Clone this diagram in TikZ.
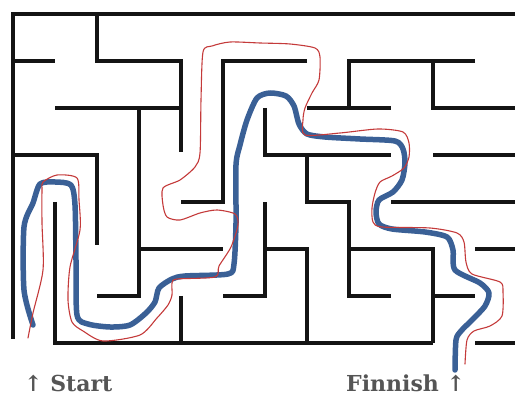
\documentclass[tikz,border=0pt]{standalone}
\usepackage{fontspec}
\setmainfont{DejaVu Serif}
\definecolor{pathblue}{RGB}{58,96,150}
\definecolor{pathred}{RGB}{196,58,58}
\definecolor{labelgray}{RGB}{85,85,85}
\begin{document}
\begin{tikzpicture}[x=1pt,y=-1pt,
  wall/.style={line width=3.8pt,black!92,line join=miter},
  bluepath/.style={line width=5.5pt,pathblue,line cap=round,line join=round},
  redpath/.style={line width=1.1pt,pathred,line cap=round,line join=round},
  label/.style={font=\bfseries\fontsize{22}{22}\selectfont,text=labelgray,inner sep=0pt,anchor=base west}]
\useasboundingbox (0,0) rectangle (515,398);
% outer walls
\draw[wall] (515,14) -- (13,14) -- (13,339);
\draw[wall] (55,202) -- (55,343) -- (433,343);
\draw[wall] (475,343) -- (515,343);
% inner walls
\draw[wall] (97,14) -- (97,61) -- (181,61) -- (181,152);
\draw[wall] (13,61) -- (55,61);
\draw[wall] (55,108) -- (181,108);
\draw[wall] (139,108) -- (139,296) -- (97,296);
\draw[wall] (13,155) -- (97,155) -- (97,245);
\draw[wall] (307,61) -- (223,61) -- (223,202) -- (181,202);
\draw[wall] (139,249) -- (223,249);
\draw[wall] (181,296) -- (181,343);
\draw[wall] (223,296) -- (265,296) -- (265,202);
\draw[wall] (265,249) -- (307,249) -- (307,343);
\draw[wall] (475,61) -- (349,61) -- (349,108);
\draw[wall] (307,108) -- (391,108);
\draw[wall] (433,61) -- (433,108) -- (515,108);
\draw[wall] (265,108) -- (265,155) -- (391,155);
\draw[wall] (307,155) -- (307,202) -- (349,202) -- (349,296) -- (391,296);
\draw[wall] (433,155) -- (515,155);
\draw[wall] (391,202) -- (515,202);
\draw[wall] (349,249) -- (433,249) -- (433,343);
\draw[wall] (433,296) -- (475,296);
\draw[wall] (475,249) -- (515,249);
% solution path (blue)
\draw[bluepath] plot[smooth,tension=0.45] coordinates {
 (33,325) (24,290) (24,227) (33,203) (40,184) (55,182) (71,185) (75,205)
 (76,260) (77,315) (88,324) (110,327) (130,325) (146,313) (155,302)
 (159,288) (172,279) (185,276) (228,274) (234,264) (236,223) (236,165)
 (240,145) (247,120) (257,98) (270,93) (286,96) (294,106) (299,124)
 (307,134) (325,137) (360,139) (395,141) (403,149) (405,163) (402,180)
 (393,192) (379,200) (376,212) (379,224) (392,229) (425,232) (447,237)
 (453,250) (455,270) (480,283) (489,293) (485,306) (472,320) (461,331)
 (456,340) (455,370)};
% drawn outline (red)
\draw[redpath] plot[smooth,tension=0.45] coordinates {
 (28,338) (33,313) (43,270) (42,223) (42,190) (43,182) (57,175) (77,178)
 (79,200) (80,230) (70,267) (68,300) (72,322) (83,331) (103,341) (140,335)
 (157,318) (168,305) (172,295) (172,283) (177,279) (215,277) (219,266)
 (231,247) (238,225) (235,214) (217,210) (200,213) (180,220) (167,217)
 (163,205) (163,188) (180,180) (195,167) (200,153) (201,100) (203,52)
 (212,46) (230,42) (260,43) (290,44) (315,48) (320,57) (319,80) (312,93)
 (305,108) (303,120) (305,135) (340,133) (378,129) (403,132) (409,143)
 (409,157) (404,168) (392,176) (380,182) (375,193) (372,208) (373,222)
 (382,227) (430,228) (457,233) (464,242) (466,262) (472,274) (500,282)
 (503,292) (502,316) (490,326) (474,331) (467,340) (465,364)};
% labels
\node[label] (start) at (24,392) {↑ Start};
\node[label] (finish) at (346,392) {Finnish ↑};
\end{tikzpicture}
\end{document}
